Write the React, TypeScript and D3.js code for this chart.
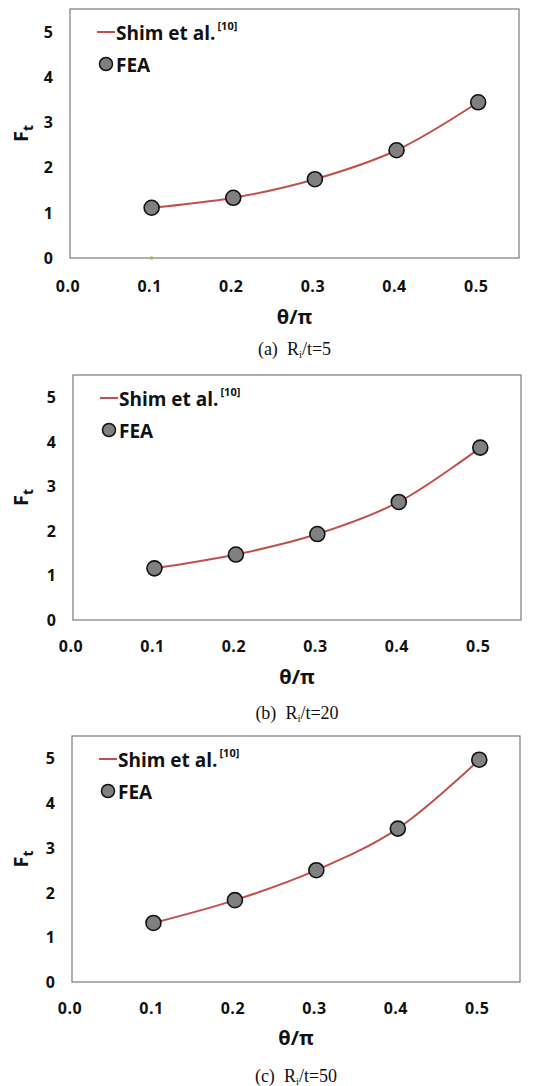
import React from "react";
import * as d3 from "d3";

// θ/π positions shared by every panel
const thetaRatio = [0.1, 0.2, 0.3, 0.4, 0.5];

// Ft values for each Ri/t case (Shim et al. curve and FEA points coincide)
const ftRi5 = [1.11, 1.33, 1.74, 2.38, 3.44];
const ftRi20 = [1.16, 1.47, 1.93, 2.65, 3.87];
const ftRi50 = [1.32, 1.83, 2.5, 3.43, 4.97];

const xTicks = [0, 0.1, 0.2, 0.3, 0.4, 0.5];
const yTicks = [0, 1, 2, 3, 4, 5];

const panelLabels = ["(a)", "(b)", "(c)"];
const panelRatios = ["5", "20", "50"];
const panelSeries = [ftRi5, ftRi20, ftRi50];

// Panel frames on the page
const frames = [
  { left: 70, right: 519, top: 9, bottom: 258, tickY: 292, titleY: 324, captionY: 355 },
  { left: 73, right: 521, top: 375, bottom: 620, tickY: 652, titleY: 684, captionY: 719 },
  { left: 72, right: 520, top: 736, bottom: 982, tickY: 1014, titleY: 1045, captionY: 1082 },
];

const RED = "#c0504d";
const SANS = "'Open Sans', 'Noto Sans', sans-serif";
const SERIF = "'Liberation Serif', 'Times New Roman', serif";

function Panel({ idx }: { idx: number }) {
  const f = frames[idx];
  const values = panelSeries[idx];
  const x = d3.scaleLinear().domain([0, 0.55]).range([f.left, f.right]);
  const y = d3.scaleLinear().domain([0, 5.5]).range([f.bottom, f.top]);
  const line = d3
    .line<number>()
    .x((_, i) => x(thetaRatio[i]))
    .y((v) => y(v))
    .curve(d3.curveCatmullRom.alpha(0.5));
  const cx = (f.left + f.right) / 2;
  const midY = (f.top + f.bottom) / 2;

  return (
    <g>
      <rect
        x={f.left}
        y={f.top}
        width={f.right - f.left}
        height={f.bottom - f.top}
        fill="none"
        stroke="#7a7a7a"
        strokeWidth={1.2}
      />
      {yTicks.map((t) => (
        <text
          key={"y" + t}
          x={f.left - 17}
          y={y(t)}
          textAnchor="end"
          dominantBaseline="central"
          fontFamily={SANS}
          fontWeight="bold"
          fontSize={16}
          fill="#111"
        >
          {t}
        </text>
      ))}
      {xTicks.map((t) => (
        <text
          key={"x" + t}
          x={x(t) - 2}
          y={f.tickY}
          textAnchor="middle"
          fontFamily={SANS}
          fontWeight="bold"
          fontSize={16}
          letterSpacing={0.5}
          fill="#111"
        >
          {t.toFixed(1)}
        </text>
      ))}
      <text
        x={cx}
        y={f.titleY}
        textAnchor="middle"
        fontFamily={SANS}
        fontWeight="bold"
        fontSize={20}
        fill="#111"
      >
        θ/π
      </text>
      <text
        transform={`translate(28,${midY}) rotate(-90)`}
        textAnchor="middle"
        fontFamily={SANS}
        fontWeight="bold"
        fontSize={20}
        fill="#111"
      >
        F<tspan fontSize={14} dy={5}>t</tspan>
      </text>
      <text
        x={cx}
        y={f.captionY}
        textAnchor="middle"
        fontFamily={SERIF}
        fontSize={18}
        fill="#111"
      >
        {panelLabels[idx]}{"\u00a0\u00a0"}R<tspan fontSize={11} dy={3}>i</tspan>
        <tspan dy={-3}>/t={panelRatios[idx]}</tspan>
      </text>

      {/* legend */}
      <line
        x1={f.left + 27}
        x2={f.left + 45}
        y1={f.top + 23}
        y2={f.top + 23}
        stroke={RED}
        strokeWidth={2}
      />
      <text
        x={f.left + 46}
        y={f.top + 24}
        dominantBaseline="central"
        fontFamily={SANS}
        fontWeight="bold"
        fontSize={19}
        fill="#111"
      >
        Shim et al.
        <tspan fontSize={11} dy={-8} dx={2}>[10]</tspan>
      </text>
      <circle cx={f.left + 36} cy={f.top + 55} r={6.5} fill="#808080" stroke="#111" strokeWidth={1.5} />
      <text
        x={f.left + 46}
        y={f.top + 56}
        dominantBaseline="central"
        fontFamily={SANS}
        fontWeight="bold"
        fontSize={19}
        fill="#111"
      >
        FEA
      </text>

      <path d={line(values) || ""} fill="none" stroke={RED} strokeWidth={2} />
      {values.map((v, i) => (
        <circle
          key={i}
          cx={x(thetaRatio[i])}
          cy={y(v)}
          r={7.5}
          fill="#808080"
          stroke="#111"
          strokeWidth={1.6}
        />
      ))}
      {idx === 0 && (
        <circle cx={x(thetaRatio[0])} cy={y(0)} r={1.8} fill="#9bbb59" />
      )}
    </g>
  );
}

export default function App() {
  return (
    <svg
      width={539}
      height={1086}
      style={{ position: "absolute", left: 0, top: 0, background: "#fff" }}
    >
      {frames.map((_, i) => (
        <Panel key={i} idx={i} />
      ))}
    </svg>
  );
}
